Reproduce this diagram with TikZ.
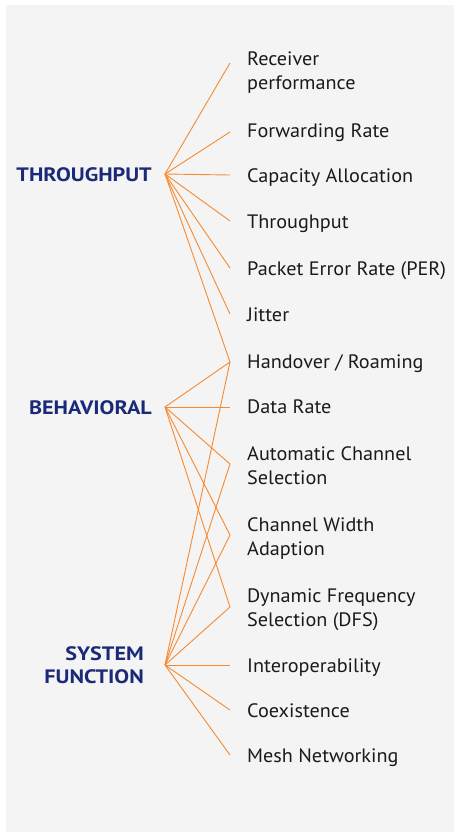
\documentclass[tikz,border=0pt]{standalone}
\usepackage{fontspec}
\setmainfont{PT Sans}[FakeStretch=1.04]
\newfontfamily\headfont{PT Sans}[FakeStretch=1.14,BoldFont={PT Sans Bold}]
\definecolor{bgc}{HTML}{F4F4F4}
\definecolor{navy}{HTML}{1A2A78}
\definecolor{lineor}{HTML}{F7892F}
\definecolor{txt}{HTML}{1A1A1A}
\begin{document}
\begin{tikzpicture}[x=1bp,y=-1bp,
  item/.style={anchor=base west, inner sep=0pt, align=left, text=txt,
    font=\fontsize{19.5}{24}\selectfont},
  head/.style={anchor=base east, inner sep=0pt, align=right, text=navy,
    font=\headfont\bfseries\fontsize{19.5}{23}\selectfont},
  link/.style={draw=lineor, line width=0.9pt}]
\useasboundingbox (0,0) rectangle (454,832);
\fill[bgc] (6,5) rectangle (454,832);
% headings
\node[head] (thr) at (152,181) {THROUGHPUT};
\node[head] (beh) at (152,414) {BEHAVIORAL};
\node[head] (sys) at (144,683) {SYSTEM\\FUNCTION};
\coordinate (hT) at (165,174);
\coordinate (hB) at (165,407);
\coordinate (hS) at (165,665);
% items (multi-line nodes: base = last line)
\node[item] (i1) at (247,89) {Receiver\\performance};
\node[item] (i2) at (247,137) {Forwarding Rate};
\node[item] (i3) at (247,182) {Capacity Allocation};
\node[item] (i4) at (247,228) {Throughput};
\node[item] (i5) at (247,275) {Packet Error Rate (PER)};
\node[item] (i6) at (247,321) {Jitter};
\node[item] (i7) at (247,368) {Handover / Roaming};
\node[item] (i8) at (247,413) {Data Rate};
\node[item] (i9) at (247,484) {Automatic Channel\\Selection};
\node[item] (i10) at (247,555) {Channel Width\\Adaption};
\node[item] (i11) at (247,626) {Dynamic Frequency\\Selection (DFS)};
\node[item] (i12) at (247,672) {Interoperability};
\node[item] (i13) at (247,717) {Coexistence};
\node[item] (i14) at (247,762) {Mesh Networking};
% endpoints
\coordinate (e1) at (230,63);
\coordinate (e2) at (230,132);
\coordinate (e3) at (230,175);
\coordinate (e4) at (230,221);
\coordinate (e5) at (230,268);
\coordinate (e6) at (230,314);
\coordinate (e7) at (230,362);
\coordinate (e8) at (230,407);
\coordinate (e9) at (230,464);
\coordinate (e10) at (230,535);
\coordinate (e11) at (230,607);
\coordinate (e12) at (230,665);
\coordinate (e13) at (230,710);
\coordinate (e14) at (230,755);
% connectors
\foreach \e in {1,...,7} \draw[link] (hT) -- (e\e);
\foreach \e in {7,...,11} \draw[link] (hB) -- (e\e);
\foreach \e in {7,9,10,11,12,13,14} \draw[link] (hS) -- (e\e);
\end{tikzpicture}
\end{document}
